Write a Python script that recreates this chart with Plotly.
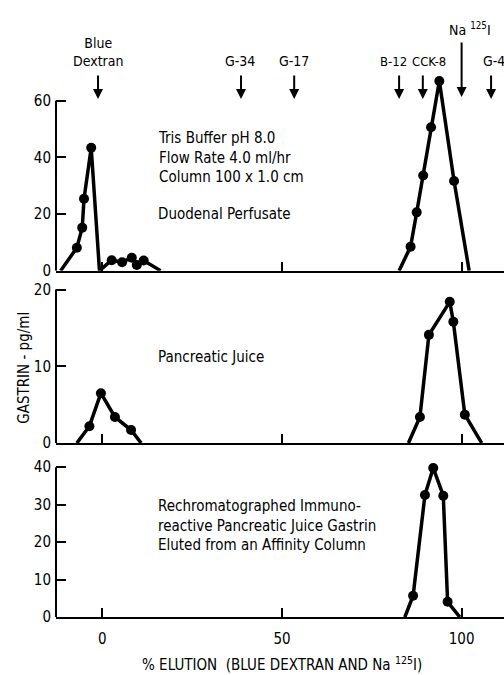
import plotly.graph_objects as go

W, H = 504, 675

# ---- data (x = % elution, y = gastrin pg/ml) ----
duod_void_x = [-11.6, -7.1, -5.6, -5.1, -3.1, -0.8, 2.6, 5.5, 8.2, 9.6, 11.5, 16.2]
duod_void_y = [0, 8.1, 15.2, 25.4, 43.4, 0, 3.7, 3.0, 4.6, 2.0, 3.6, 0]
duod_peak_x = [82.6, 85.8, 87.5, 89.3, 91.5, 93.8, 97.9, 102.1]
duod_peak_y = [0, 8.5, 20.6, 33.6, 50.7, 67.0, 31.7, 0]

panc_void_x = [-7.1, -3.6, -0.4, 3.5, 8.0, 10.8]
panc_void_y = [0, 2.2, 6.5, 3.4, 1.7, 0]
panc_peak_x = [85.2, 88.4, 90.9, 96.7, 97.7, 100.9, 105.6]
panc_peak_y = [0, 3.4, 14.1, 18.4, 15.8, 3.7, 0]

rechrom_x = [84.2, 86.5, 89.8, 92.1, 94.9, 96.1, 99.5]
rechrom_y = [0, 5.7, 32.6, 39.8, 32.4, 4.1, 0]

x_ticks = [0, 50, 100]
y_ticks_1 = [0, 20, 40, 60]
y_ticks_2 = [0, 10, 20]
y_ticks_3 = [0, 10, 20, 30, 40]

# (label, arrow x, label x)
markers_top = [("Blue<br>Dextran", -1.2, -1.2), ("G-34", 38.6, 38.2), ("G-17", 53.4, 53.4),
               ("B-12", 82.6, 81.0), ("CCK-8", 89.2, 91.0), ("G-4", 108.2, 109.0)]

FONT = "Liberation Sans Narrow, DejaVu Sans Condensed, Arial Narrow, DejaVu Sans, sans-serif"
X_RANGE = [-12.9, 111.8]
X0 = 56 / W


def py(px):
    return 1 - px / H


fig = go.Figure()

def add(xs, ys, ax):
    fig.add_trace(go.Scatter(
        x=xs, y=ys, xaxis="x" + ax, yaxis="y" + ax, mode="lines+markers",
        line=dict(color="black", width=3.5),
        marker=dict(color="black", opacity=1, line=dict(width=0),
                    size=[10 if v > 0 else 0 for v in ys]),
        cliponaxis=False, showlegend=False, hoverinfo="skip"))

add(duod_void_x, duod_void_y, "")
add(duod_peak_x, duod_peak_y, "")
add(panc_void_x, panc_void_y, "2")
add(panc_peak_x, panc_peak_y, "2")
add(rechrom_x, rechrom_y, "3")

tickfont = dict(family=FONT, size=15, color="black")

def xax(anchor, labels):
    return dict(domain=[X0, 1], range=X_RANGE, anchor=anchor, showline=True,
                linecolor="black", linewidth=2, ticks="inside", ticklen=9,
                tickwidth=2, tickcolor="black", tickvals=x_ticks,
                showticklabels=labels, tickfont=tickfont, showgrid=False,
                zeroline=False, fixedrange=True, ticklabelstandoff=7)

def yax(anchor, dom, rng, tv):
    return dict(domain=dom, range=rng, anchor=anchor, showline=False,
                ticks="inside", ticklen=10, tickwidth=2, tickcolor="black",
                tickvals=tv, tickfont=tickfont, showgrid=False, zeroline=False,
                fixedrange=True, ticklabelstandoff=4)

# panel layouts (pixel positions of zero and top)
p1_zero, p1_scale = 270.7, (270.7 - 97) / 60
p2_zero, p2_scale = 447, (447 - 290) / 20
p3_zero, p3_scale = 625, (625 - 471.7) / 40

fig.update_layout(
    width=W, height=H, margin=dict(l=0, r=0, t=0, b=0),
    paper_bgcolor="white", plot_bgcolor="white",
    xaxis=xax("y", False),
    yaxis=yax("x", [py(p1_zero), py(p1_zero - 70 * p1_scale)], [0, 70], y_ticks_1),
    xaxis2=xax("y2", False),
    yaxis2=yax("x2", [py(p2_zero), py(p2_zero - 20.3 * p2_scale)], [0, 20.3], y_ticks_2),
    xaxis3=xax("y3", True),
    yaxis3=yax("x3", [py(p3_zero), py(p3_zero - 42 * p3_scale)], [0, 42], y_ticks_3),
)

# y axis lines up to top tick
for ax, top in (("y", 60), ("y2", 20), ("y3", 40)):
    fig.add_shape(type="line", xref="paper", yref=ax, x0=X0, x1=X0, y0=0, y1=top,
                  line=dict(color="black", width=2))

ann = []
txt = dict(family=FONT, size=15, color="black")
toptxt = dict(family=FONT, size=14, color="black")
# top markers with arrows
for label, xv, lx in markers_top:
    ann.append(dict(x=xv, y=py(95), xref="x", yref="paper", showarrow=True,
                    ax=0, ay=-25, arrowhead=2, arrowsize=1, arrowwidth=2,
                    arrowcolor="black", text=""))
    ann.append(dict(x=lx, y=py(66), xref="x", yref="paper", text=label,
                    showarrow=False, yanchor="bottom",
                    font=dict(family=FONT, size=13 if "B-12" in label or "CCK" in label else 14,
                              color="black")))
# Na 125I line
ann.append(dict(x=100, y=py(93), xref="x", yref="paper", showarrow=True, ax=0, ay=-56,
                arrowhead=2, arrowsize=1, arrowwidth=2, arrowcolor="black", text=""))
ann.append(dict(x=96.0, y=py(35), xref="x", yref="paper", text="Na <sup>125</sup>I",
                showarrow=False, xanchor="left", yanchor="bottom", font=toptxt))

# panel texts
ann.append(dict(x=15.0, y=py(124), xref="x", yref="paper", xanchor="left", yanchor="top",
                align="left", showarrow=False, font=txt,
                text="Tris Buffer pH 8.0<br>Flow Rate 4.0 ml/hr<br>Column 100 x 1.0 cm"))
ann.append(dict(x=15.0, y=py(201), xref="x", yref="paper", xanchor="left", yanchor="top",
                showarrow=False, font=txt, text="Duodenal Perfusate"))
ann.append(dict(x=15.0, y=py(348), xref="x", yref="paper", xanchor="left", yanchor="top",
                showarrow=False, font=txt, text="Pancreatic Juice"))
ann.append(dict(x=15.0, y=py(500), xref="x", yref="paper", xanchor="left", yanchor="top",
                align="left", showarrow=False, font=txt,
                text="Rechromatographed Immuno-<br>reactive Pancreatic Juice Gastrin<br>Eluted from an Affinity Column"))
# axis titles
ann.append(dict(x=282 / W, y=py(673), xref="paper", yref="paper", showarrow=False,
                yanchor="middle", font=txt,
                text="% ELUTION  (BLUE DEXTRAN AND Na <sup>125</sup>I)"))
ann.append(dict(x=13 / W, y=py(370), xref="paper", yref="paper", showarrow=False,
                yanchor="middle", font=txt, textangle=-90, text="GASTRIN - pg/ml"))

fig.update_layout(annotations=ann)
fig.write_html("out.html")
